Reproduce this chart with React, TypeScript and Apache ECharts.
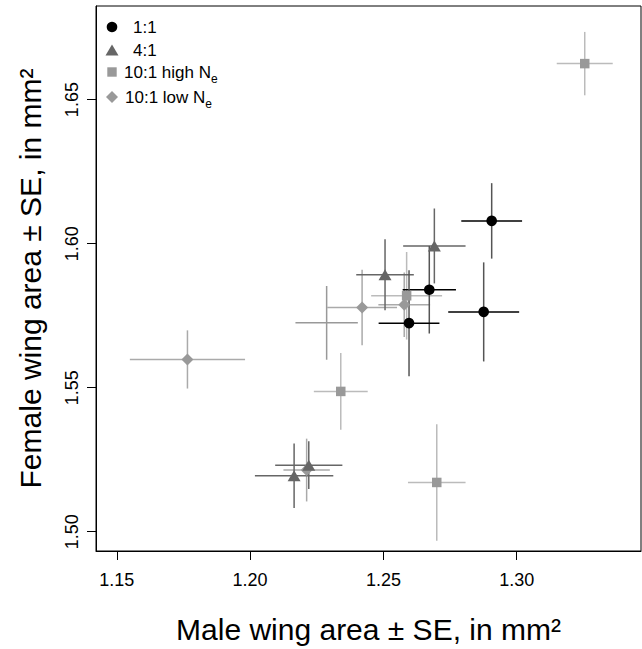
import React, { useEffect, useRef } from "react";
import * as echarts from "echarts";

// ---- data ----
const xTicks = [1.15, 1.2, 1.25, 1.3];
const yTicks = [1.5, 1.55, 1.6, 1.65];

const ratio11X = [1.2906, 1.2672, 1.2596, 1.2876];
const ratio11Y = [1.6079, 1.584, 1.5724, 1.5763];
const ratio11Xse = [0.0114, 0.01, 0.0114, 0.0133];
const ratio11Yse = [0.0131, 0.0152, 0.0184, 0.0172];

const ratio41X = [1.2691, 1.2506, 1.2165, 1.222];
const ratio41Y = [1.5992, 1.5892, 1.5194, 1.5231];
const ratio41Xse = [0.0117, 0.0108, 0.0147, 0.0126];
const ratio41Yse = [0.013, 0.0123, 0.0112, 0.0083];

const highNeX = [1.3255, 1.2587, 1.234, 1.27];
const highNeY = [1.6625, 1.5819, 1.5487, 1.5171];
const highNeXse = [0.0105, 0.0133, 0.0101, 0.0108];
const highNeYse = [0.011, 0.0152, 0.0133, 0.0202];

const lowNeX = [1.1765, 1.242, 1.2578, 1.2212];
const lowNeY = [1.5598, 1.5778, 1.5788, 1.5214];
const lowNeXse = [0.0216, 0.0131, 0.0097, 0.0087];
const lowNeYse = [0.0101, 0.0131, 0.0112, 0.0109];

const unmarkedX = [1.2287];
const unmarkedY = [1.5725];
const unmarkedXse = [0.0117];
const unmarkedYse = [0.0128];

const FONT = '"Liberation Sans", Arial, Helvetica, sans-serif';

function pts(xs: number[], ys: number[]) {
  return xs.map((x, i) => [x, ys[i]]);
}
function bars(xs: number[], ys: number[], ex: number[], ey: number[]) {
  return xs.map((x, i) => [x, ys[i], ex[i], ey[i]]);
}

function errSeries(data: number[][], hColor: string, vColor: string) {
  return {
    type: "custom",
    z: 1,
    data,
    encode: { x: 0, y: 1 },
    silent: true,
    renderItem: (_p: any, api: any) => {
      const x = api.value(0);
      const y = api.value(1);
      const ex = api.value(2);
      const ey = api.value(3);
      const l = api.coord([x - ex, y]);
      const r = api.coord([x + ex, y]);
      const t = api.coord([x, y + ey]);
      const b = api.coord([x, y - ey]);
      return {
        type: "group",
        children: [
          {
            type: "line",
            shape: { x1: l[0], y1: l[1], x2: r[0], y2: r[1] },
            style: { stroke: hColor, lineWidth: 1.5 },
          },
          {
            type: "line",
            shape: { x1: t[0], y1: t[1], x2: b[0], y2: b[1] },
            style: { stroke: vColor, lineWidth: 1.5 },
          },
        ],
      };
    },
  };
}

function markSeries(name: string, data: number[][], symbol: string, size: any, color: string) {
  return {
    type: "scatter",
    name,
    z: 3,
    data,
    symbol,
    symbolSize: size,
    itemStyle: { color, opacity: 1 },
    silent: true,
  };
}

export default function App() {
  const ref = useRef<HTMLDivElement>(null);
  useEffect(() => {
    if (!ref.current) return;
    const chart = echarts.init(ref.current, undefined, { renderer: "svg" });
    const lx = 112;
    const legendText = (x: number, y: number, text: string, sub?: string) => {
      if (!sub) {
        return {
          type: "text",
          x,
          y,
          style: {
            text,
            fontSize: 17,
            fontFamily: FONT,
            fill: "#000",
            align: "left",
            verticalAlign: "middle",
          },
        };
      }
      return {
        type: "text",
        x,
        y,
        style: {
          text: `{a|${text}}{b|${sub}}`,
          fill: "#000",
          align: "left",
          verticalAlign: "middle",
          rich: {
            a: { fontSize: 17, lineHeight: 26, fontFamily: FONT, fill: "#000" },
            b: { fontSize: 12, lineHeight: 12, fontFamily: FONT, fill: "#000", verticalAlign: "bottom" },
          },
        },
      };
    };
    const option: any = {
      animation: false,
      backgroundColor: "#fff",
      grid: {
        left: 96,
        right: 1,
        top: 6,
        bottom: 96,
        show: true,
        borderColor: "#000",
        borderWidth: 1,
        backgroundColor: "transparent",
      },
      xAxis: {
        type: "value",
        min: 1.1422,
        max: 1.3466,
        name: "Male wing area ± SE, in mm²",
        nameLocation: "middle",
        nameGap: 63,
        nameTextStyle: { fontSize: 30, fontFamily: FONT, color: "#000" },
        splitLine: { show: false },
        axisLine: { show: true, onZero: false, lineStyle: { color: "#000", width: 1 } },
        axisTick: { show: true, length: 9, customValues: xTicks, lineStyle: { color: "#000", width: 1 } },
        axisLabel: {
          customValues: xTicks,
          formatter: (v: number) => v.toFixed(2),
          fontSize: 18,
          fontFamily: FONT,
          color: "#000",
          margin: 20,
        },
      },
      yAxis: {
        type: "value",
        min: 1.4933,
        max: 1.6825,
        name: "Female wing area ± SE, in mm²",
        nameLocation: "middle",
        nameGap: 51,
        nameTextStyle: { fontSize: 30, fontFamily: FONT, color: "#000" },
        splitLine: { show: false },
        axisLine: { show: true, onZero: false, lineStyle: { color: "#000", width: 1 } },
        axisTick: { show: true, length: 9, customValues: yTicks, lineStyle: { color: "#000", width: 1 } },
        axisLabel: {
          customValues: yTicks,
          formatter: (v: number) => v.toFixed(2),
          rotate: 90,
          fontSize: 18,
          fontFamily: FONT,
          color: "#000",
          margin: 15,
        },
      },
      series: [
        errSeries(bars(unmarkedX, unmarkedY, unmarkedXse, unmarkedYse), "#999", "#999"),
        errSeries(bars(highNeX, highNeY, highNeXse, highNeYse), "#bbb", "#bbb"),
        errSeries(bars(lowNeX, lowNeY, lowNeXse, lowNeYse), "#aaa", "#aaa"),
        errSeries(bars(ratio41X, ratio41Y, ratio41Xse, ratio41Yse), "#666", "#666"),
        errSeries(bars(ratio11X, ratio11Y, ratio11Xse, ratio11Yse), "#000", "#555"),
        markSeries("10:1 high Ne", pts(highNeX, highNeY), "rect", 9.5, "#999"),
        markSeries("10:1 low Ne", pts(lowNeX, lowNeY), "diamond", 12, "#999"),
        markSeries("4:1", pts(ratio41X, ratio41Y), "triangle", [13, 11], "#666"),
        markSeries("1:1", pts(ratio11X, ratio11Y), "circle", 10.6, "#000"),
      ],
      graphic: [
        { type: "circle", shape: { cx: lx, cy: 27, r: 5.3 }, style: { fill: "#000" } },
        {
          type: "polygon",
          shape: { points: [[lx - 6.5, 55.5], [lx + 6.5, 55.5], [lx, 44.5]] },
          style: { fill: "#666" },
        },
        { type: "rect", shape: { x: lx - 4.7, y: 72 - 4.7, width: 9.4, height: 9.4 }, style: { fill: "#999" } },
        {
          type: "polygon",
          shape: { points: [[lx, 91], [lx + 6, 97], [lx, 103], [lx - 6, 97]] },
          style: { fill: "#999" },
        },
        legendText(133, 27, "1:1"),
        legendText(133, 50, "4:1"),
        legendText(124, 72, "10:1 high N", "e"),
        legendText(125, 97, "10:1 low N", "e"),
      ],
    };
    chart.setOption(option);
    return () => chart.dispose();
  }, []);
  return (
    <div
      ref={ref}
      style={{ position: "absolute", left: 0, top: 0, width: 642, height: 649 }}
    />
  );
}
